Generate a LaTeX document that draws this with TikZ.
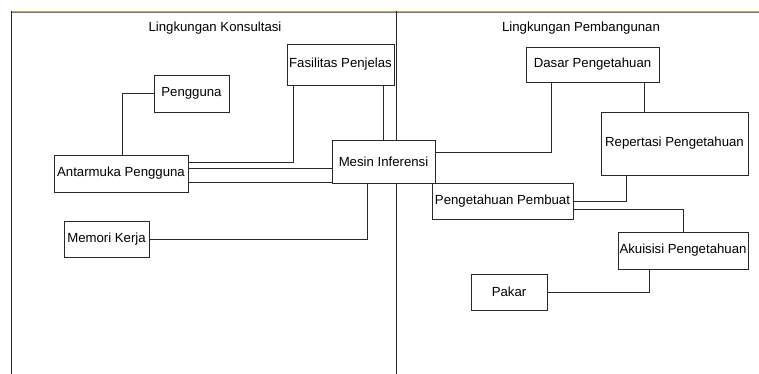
\documentclass[tikz,border=0pt]{standalone}
\usepackage{fontspec}
\setmainfont{Liberation Sans}
\definecolor{ln}{RGB}{40,40,40}
\definecolor{topy}{RGB}{190,170,90}
\definecolor{topg}{RGB}{120,120,120}
\begin{document}
\begin{tikzpicture}[x=1pt,y=-1pt,
  box/.style={draw=ln,fill=white,line width=0.8pt,inner sep=0pt,align=center,
    font=\fontsize{13.2}{15}\selectfont},
  conn/.style={draw=ln,line width=0.8pt},
  lbl/.style={inner sep=0pt,font=\fontsize{13.2}{15}\selectfont}]
\useasboundingbox (0,0) rectangle (759,374);
% frame / dividers
\coordinate (tl) at (11.5,11);
\coordinate (tr) at (759,11);
\coordinate (bl) at (11.5,374);
\coordinate (mt) at (396,11);
\coordinate (mb) at (396,374);
\draw[topy,line width=0.8pt] (tl) -- (tr);
\draw[topg,line width=0.7pt] ([yshift=-1]tl) -- ([yshift=-1]tr);
\draw[conn] (tl) -- (bl);
\draw[conn] (mt) -- (mb);
% labels
\node[lbl] (lk) at (215,28) {Lingkungan Konsultasi};
\node[lbl] (lp) at (581,28) {Lingkungan Pembangunan};
% boxes
\node[box,minimum width=107,minimum height=41] (fp) at (340.5,64.5) {Fasilitas Penjelas};
\node[box,minimum width=75,minimum height=37] (pg) at (191.5,93.5) {Pengguna};
\node[box,minimum width=134,minimum height=37] (am) at (121,173.5) {Antarmuka Pengguna};
\node[box,minimum width=103,minimum height=43] (mi) at (383.5,161.5) {Mesin Inferensi};
\node[box,minimum width=85,minimum height=36] (mk) at (106.5,239) {Memori Kerja};
\node[box,minimum width=133,minimum height=35] (dp) at (592.5,64.5) {Dasar Pengetahuan};
\node[box,minimum width=147,minimum height=63] (rp) at (674.5,143.5) {Repertasi Pengetahuan};
\node[box,minimum width=141,minimum height=36] (pp) at (502.5,201) {Pengetahuan Pembuat};
\node[box,minimum width=130,minimum height=37] (ak) at (683,250.5) {Akuisisi Pengetahuan};
\node[box,minimum width=76,minimum height=36] (pk) at (509,292) {Pakar};
% connectors
\draw[conn] (pg.west) -| ([xshift=1]am.north);
\draw[conn] (fp.south -| 293,0) |- (am.east |- 0,162);
\draw[conn] (fp.south -| 383,0) -- (mi.north -| 383,0);
\draw[conn] (am.east |- 0,168) -- (mi.west |- 0,168);
\draw[conn] (am.east |- 0,182) -- (mi.west |- 0,182);
\draw[conn] (mk.east) -| (mi.south -| 367,0);
\draw[conn] (dp.south -| 551,0) |- (mi.east |- 0,152);
\draw[conn] (dp.south -| 644,0) -- (rp.north -| 644,0);
\draw[conn] (rp.south -| 626,0) |- (pp.east);
\draw[conn] (pp.east |- 0,209) -| (ak.north);
\draw[conn] (ak.south -| 649,0) |- (pk.east);
\end{tikzpicture}
\end{document}
